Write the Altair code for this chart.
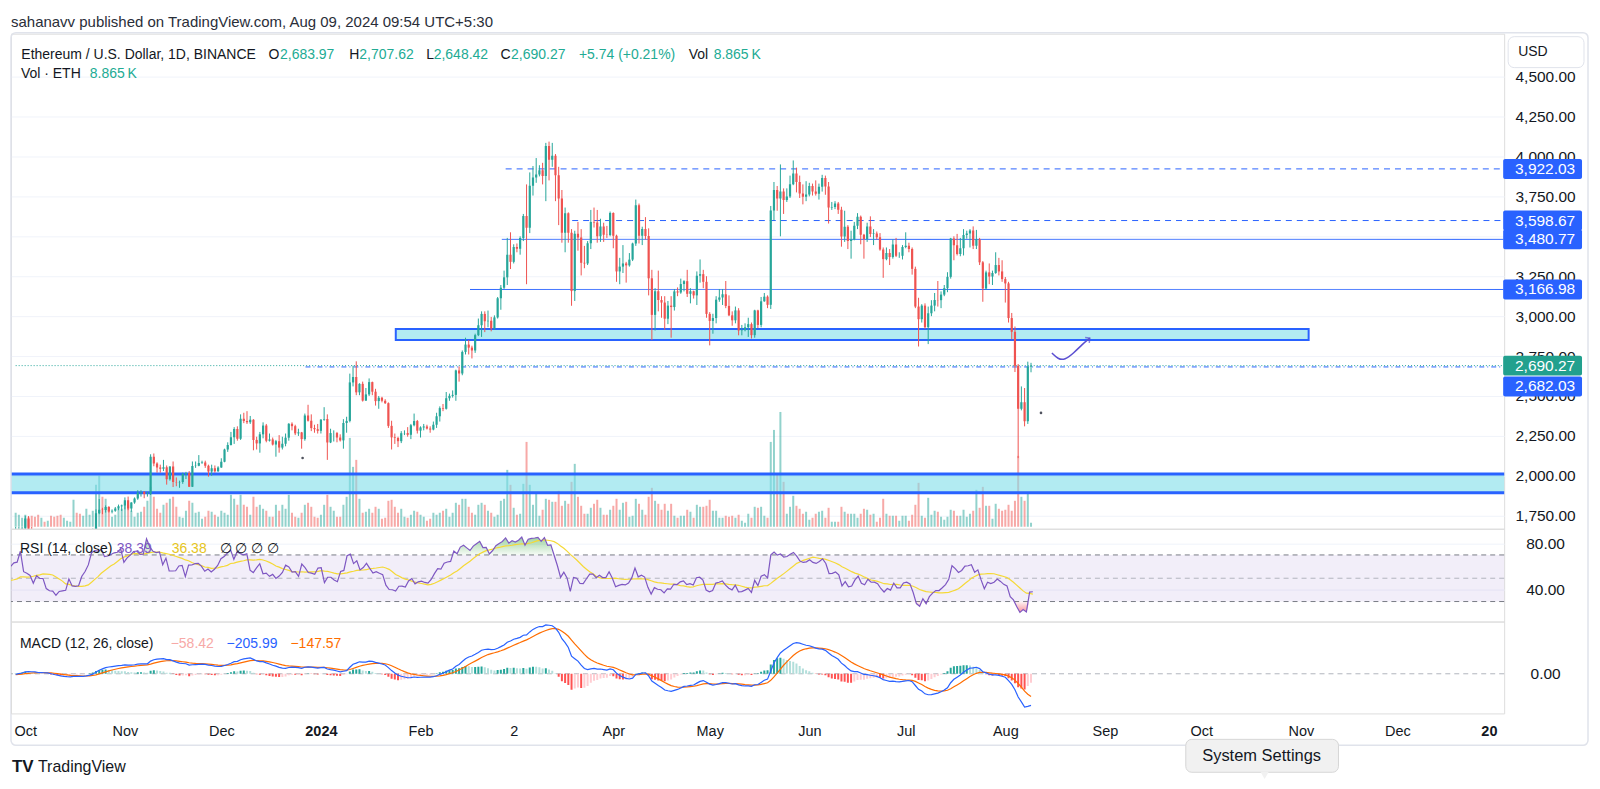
import altair as alt
import numpy as np
import pandas as pd

FONT = "Liberation Sans"
UP, DOWN = "#26a69a", "#ef5350"
DARK = "#131722"
BLUE = "#2962ff"

# ---------------- data (ETH/USD daily) ----------------
# warm-up closes Sep 1-27 2023 (off-screen, used only by the indicators)
sep_close = [1628, 1635, 1637, 1630, 1634, 1632, 1645, 1635, 1634, 1617, 1550, 1593, 1606, 1626,
             1641, 1635, 1622, 1638, 1645, 1624, 1583, 1593, 1593, 1582, 1589, 1594, 1598]

# daily candles 2023-09-28 .. 2024-08-09
close = [
    1653, 1668, 1671,
    1733, 1663, 1656, 1647, 1611, 1646, 1633, 1633, 1580, 1567, 1565, 1539, 1553, 1555, 1557, 1600,
    1566, 1564, 1566, 1605, 1628, 1665, 1765, 1788, 1786, 1805, 1777, 1782, 1795, 1810, 1815,
    1847, 1796, 1833, 1858, 1894, 1899, 1886, 1888, 2120, 2077, 2052, 2045, 2054, 1979, 2058, 1961,
    1960, 1962, 2012, 2018, 1932, 2062, 2063, 2080, 2084, 2063, 2027, 2048, 2028, 2052,
    2088, 2165, 2193, 2242, 2293, 2233, 2358, 2344, 2336, 2352, 2225, 2203, 2260, 2315, 2220, 2228,
    2196, 2217, 2177, 2201, 2239, 2326, 2311, 2266, 2272, 2230, 2378, 2345, 2299, 2292, 2282,
    2352, 2356, 2209, 2268, 2268, 2240, 2222, 2331, 2344, 2585, 2619, 2523, 2576, 2471, 2510, 2587,
    2527, 2468, 2489, 2470, 2455, 2313, 2241, 2237, 2217, 2267, 2268, 2257, 2317, 2343, 2283,
    2303, 2309, 2296, 2290, 2320, 2373, 2424, 2420, 2486, 2501, 2507, 2660, 2641, 2776, 2822, 2803,
    2785, 2881, 2943, 3014, 2968, 2971, 2923, 2992, 3112, 3178, 3243, 3385, 3340,
    3433, 3422, 3489, 3627, 3553, 3817, 3868, 3887, 3914, 3877, 4066, 3980, 4004, 3882, 3737, 3523,
    3644, 3523, 3157, 3516, 3493, 3334, 3330, 3456, 3590, 3587, 3500, 3562, 3509, 3508, 3646,
    3503, 3280, 3310, 3330, 3318, 3354, 3455, 3695, 3503, 3545, 3502, 3237, 3008, 3156, 3101, 3085,
    2984, 3066, 3057, 3155, 3148, 3201, 3219, 3140, 3156, 3130, 3253, 3263, 3215, 3014,
    2970, 2988, 3103, 3117, 3137, 3064, 3005, 2974, 3036, 2910, 2912, 2930, 2950, 2881, 3036, 2945,
    3093, 3122, 3071, 3662, 3790, 3736, 3780, 3728, 3749, 3826, 3893, 3840, 3768, 3747, 3762,
    3815, 3780, 3767, 3810, 3865, 3812, 3680, 3683, 3705, 3667, 3498, 3560, 3470, 3480, 3566, 3622,
    3510, 3483, 3562, 3515, 3517, 3494, 3418, 3357, 3396, 3370, 3449, 3378, 3378, 3433,
    3441, 3420, 3296, 3060, 2981, 3066, 2931, 3018, 3066, 3101, 3100, 3135, 3175, 3246, 3487, 3444,
    3389, 3425, 3508, 3517, 3536, 3441, 3481, 3337, 3173, 3274, 3248, 3270, 3320, 3280, 3232,
    3205, 2988, 2902, 2689, 2420, 2461, 2342, 2683.97, 2690.27,
]
high = [
    1680, 1680, 1680,
    1750, 1748, 1680, 1660, 1665, 1655, 1655, 1645, 1640, 1595, 1575, 1568, 1575, 1562, 1565, 1625,
    1605, 1580, 1575, 1630, 1635, 1670, 1790, 1855, 1800, 1815, 1810, 1790, 1805, 1820, 1820,
    1865, 1870, 1835, 1865, 1910, 1910, 1905, 1900, 2135, 2140, 2085, 2070, 2100, 2065, 2060, 2090,
    1990, 1970, 2020, 2025, 2030, 2090, 2090, 2130, 2095, 2095, 2070, 2070, 2065, 2060,
    2110, 2170, 2210, 2275, 2305, 2310, 2385, 2395, 2405, 2375, 2355, 2245, 2275, 2335, 2325, 2265,
    2240, 2225, 2255, 2245, 2265, 2330, 2335, 2320, 2295, 2275, 2390, 2445, 2385, 2320, 2325,
    2355, 2430, 2385, 2295, 2285, 2275, 2260, 2355, 2370, 2640, 2690, 2717, 2580, 2590, 2550, 2610,
    2590, 2545, 2500, 2495, 2480, 2460, 2345, 2265, 2245, 2280, 2285, 2305, 2325, 2390, 2350,
    2310, 2325, 2320, 2310, 2340, 2395, 2435, 2450, 2525, 2515, 2535, 2665, 2685, 2785, 2865, 2850,
    2815, 2890, 2985, 3030, 3030, 3035, 2995, 3005, 3120, 3195, 3285, 3490, 3525,
    3450, 3455, 3500, 3640, 3825, 3900, 3940, 3990, 3945, 3960, 4085, 4093, 4085, 4015, 3935, 3790,
    3680, 3650, 3545, 3535, 3590, 3545, 3440, 3470, 3665, 3680, 3665, 3610, 3585, 3565, 3655,
    3650, 3510, 3365, 3445, 3340, 3395, 3460, 3730, 3705, 3560, 3620, 3550, 3290, 3175, 3285, 3125,
    3125, 3095, 3125, 3170, 3180, 3235, 3225, 3290, 3175, 3160, 3280, 3355, 3290, 3250,
    3025, 3015, 3125, 3170, 3170, 3220, 3130, 3030, 3060, 3050, 2945, 2955, 2990, 2960, 3040, 3040,
    3120, 3145, 3130, 3690, 3840, 3815, 3950, 3800, 3800, 3880, 3975, 3930, 3880, 3825, 3845,
    3835, 3830, 3850, 3830, 3885, 3880, 3840, 3715, 3720, 3715, 3685, 3660, 3570, 3535, 3590, 3645,
    3630, 3515, 3585, 3625, 3545, 3530, 3520, 3430, 3430, 3420, 3480, 3490, 3400, 3445,
    3525, 3460, 3430, 3310, 3115, 3075, 3080, 3060, 3100, 3145, 3220, 3155, 3195, 3275, 3490, 3500,
    3515, 3490, 3545, 3535, 3545, 3562, 3540, 3490, 3345, 3285, 3330, 3285, 3400, 3365, 3350,
    3245, 3215, 3020, 2935, 2700, 2560, 2550, 2715, 2707.62,
]
low = [
    1595, 1640, 1660,
    1665, 1655, 1637, 1620, 1605, 1605, 1630, 1620, 1555, 1560, 1550, 1521, 1535, 1545, 1545, 1555,
    1555, 1555, 1545, 1560, 1595, 1620, 1660, 1760, 1760, 1770, 1770, 1765, 1775, 1785, 1780,
    1790, 1785, 1775, 1825, 1850, 1870, 1860, 1870, 1880, 2060, 2020, 2020, 2030, 1945, 1970, 1930,
    1935, 1925, 1950, 1980, 1930, 1930, 2050, 2060, 2075, 2050, 1995, 2000, 2020, 2025,
    2050, 2085, 2150, 2190, 2200, 2220, 2225, 2330, 2325, 2325, 2160, 2165, 2145, 2235, 2210, 2215,
    2190, 2120, 2145, 2165, 2185, 2220, 2285, 2255, 2250, 2170, 2220, 2340, 2280, 2270, 2265,
    2265, 2345, 2100, 2205, 2215, 2210, 2215, 2170, 2270, 2335, 2560, 2505, 2505, 2465, 2470, 2500,
    2505, 2440, 2420, 2460, 2450, 2300, 2165, 2200, 2180, 2205, 2255, 2245, 2230, 2310, 2265,
    2240, 2285, 2290, 2270, 2285, 2300, 2340, 2405, 2415, 2470, 2490, 2470, 2590, 2630, 2760, 2760,
    2735, 2770, 2875, 2870, 2900, 2930, 2905, 2915, 2985, 3040, 3170, 3195, 3295,
    3330, 3400, 3385, 3470, 3200, 3520, 3755, 3835, 3875, 3825, 3720, 3850, 3935, 3720, 3570, 3460,
    3400, 3460, 3065, 3095, 3410, 3255, 3300, 3320, 3420, 3555, 3460, 3465, 3465, 3490, 3500,
    3425, 3215, 3200, 3270, 3210, 3310, 3345, 3440, 3455, 3445, 3480, 3130, 2850, 2910, 3030, 2990,
    2915, 2950, 2865, 3035, 3125, 3140, 3155, 3120, 3080, 3110, 3070, 3210, 3175, 2990,
    2817, 2890, 2955, 3090, 3070, 3050, 3000, 2940, 2955, 2880, 2880, 2905, 2870, 2860, 2865, 2925,
    2930, 3090, 3050, 3045, 3600, 3660, 3500, 3640, 3715, 3740, 3820, 3775, 3740, 3700, 3720,
    3750, 3755, 3755, 3730, 3780, 3760, 3580, 3665, 3670, 3640, 3435, 3465, 3420, 3360, 3475, 3545,
    3450, 3360, 3465, 3495, 3445, 3480, 3410, 3240, 3350, 3320, 3360, 3370, 3365, 3355,
    3425, 3400, 3260, 3050, 2810, 2960, 2920, 2825, 3000, 3030, 3060, 3050, 3125, 3150, 3235, 3350,
    3380, 3375, 3380, 3485, 3430, 3420, 3420, 3320, 3090, 3165, 3200, 3195, 3265, 3255, 3215,
    3085, 2960, 2855, 2650, 2111, 2410, 2310, 2325, 2648.42,
]
# volume, relative bar heights
volume = [
    14, 12, 9,
    12, 10, 11, 10, 12, 9, 5, 6, 11, 10, 11, 12, 9, 6, 5, 27, 14, 13, 11, 18, 12, 16, 42, 51, 30, 28,
    20, 10, 12, 18, 18,
    25, 22, 16, 10, 14, 15, 20, 26, 40, 30, 18, 14, 22, 24, 28, 30, 20, 10, 9, 16, 26, 24, 14, 15, 8,
    10, 16, 15, 12, 10,
    16, 14, 12, 32, 28, 22, 32, 22, 20, 12, 30, 20, 22, 18, 16, 10, 10, 22, 16, 22, 18, 32, 14, 10, 9,
    14, 22, 24, 20, 10, 9,
    12, 22, 32, 20, 16, 10, 10, 22, 30, 89, 60, 67, 28, 14, 15, 18, 14, 20, 18, 8, 9, 26, 27, 20, 14,
    18, 10, 9, 12, 16, 15,
    12, 10, 6, 8, 14, 12, 14, 16, 18, 10, 14, 24, 22, 28, 28, 20, 14, 12, 22, 24, 22, 16, 14, 10, 12,
    26, 28, 57, 42,
    19, 12, 13, 43, 85, 42, 22, 34, 11, 17, 28, 27, 25, 25, 36, 21, 26, 23, 45, 63, 30, 21, 13, 13, 19,
    23, 27, 19, 12, 12, 17,
    21, 28, 17, 24, 25, 10, 11, 28, 23, 17, 12, 30, 39, 26, 23, 17, 23, 16, 23, 11, 9, 11, 11, 17, 15,
    9, 22, 20, 20, 21,
    27, 16, 16, 9, 9, 11, 10, 11, 9, 12, 6, 4, 13, 9, 20, 19, 20, 11, 9, 85, 97, 52, 115, 45, 13, 20,
    31, 21, 18, 13, 15,
    7, 9, 13, 15, 16, 9, 19, 5, 5, 5, 20, 15, 13, 13, 13, 9, 13, 18, 17, 12, 13, 5, 9, 28, 13, 11, 11,
    11, 6, 11,
    11, 6, 12, 22, 44, 11, 9, 29, 12, 16, 15, 10, 7, 10, 17, 16, 11, 11, 17, 10, 13, 16, 37, 19, 40,
    21, 21, 8, 23, 18, 16,
    17, 22, 16, 26, 71, 30, 26, 34, 4,
]
assert len(close) == len(high) == len(low) == len(volume) == 317

# drawings on the chart
level_price = [3922.03, 3598.67, 3480.77, 3166.98]
level_start = [149.5, 170.2, 148.3, 138.4]
level_dashed = [True, True, False, False]
box_value = [3922.03, 3598.67, 3480.77, 3166.98, 2682.03]
box_pos = [3922.03, 3598.67, 3480.77, 3166.98, 2560.0]
ray_price = 2682.03
ray_start = 87.2
zone_start = [115.3, -12]
zone_end = [399.4, 470]
zone_top = [2919, 2012]
zone_bottom = [2850, 1894]
arrow_day = [319.5, 321.4, 323.5, 326.3, 329.0, 331.3]
arrow_price = [2769, 2731, 2725, 2769, 2825, 2862]
dot_day = [86.3, 316.1]
dot_price = [2112, 2394]

month_days = [0, 31, 61, 92, 123, 152, 183, 213, 244, 274, 305, 336, 366, 397, 427, 458]
month_labels = ["Oct", "Nov", "Dec", "2024", "Feb", "2", "Apr", "May", "Jun", "Jul", "Aug",
                "Sep", "Oct", "Nov", "Dec", "20"]

rsi_text = ["38.39", "36.38"]
macd_text = ["\u221258.42", "\u2212205.99", "\u2212147.57"]

# ---------------- table ----------------
n = len(close)
opens = [sep_close[-1]] + close[:-1]
df = pd.DataFrame(dict(day=list(range(-3, n - 3)), open=opens, high=high, low=low,
                       close=close, vol=volume))
df["col"] = np.where(df["close"] >= df["open"], UP, DOWN)

allc = pd.Series(sep_close + close, dtype=float)
d = allc.diff().fillna(0)
ag = d.clip(lower=0).ewm(alpha=1 / 14, adjust=False).mean()
al = (-d).clip(lower=0).ewm(alpha=1 / 14, adjust=False).mean()
rsi = 100 - 100 / (1 + ag / al)
rsima = rsi.rolling(14, min_periods=1).mean()
macd = allc.ewm(span=12, adjust=False).mean() - allc.ewm(span=26, adjust=False).mean()
sig = macd.ewm(span=9, adjust=False).mean()
hist = macd - sig
prev = hist.shift(1).fillna(0)
hcol = np.where(hist >= 0, np.where(hist >= prev, "#26a69a", "#b2dfdb"),
                np.where(hist < prev, "#ff5252", "#ffcdd2"))
k = len(sep_close)
df["rsi"] = rsi.values[k:]
df["rsima"] = rsima.values[k:]
df["macd"] = macd.values[k:]
df["sig"] = sig.values[k:]
df["hist"] = hist.values[k:]
df["hcol"] = hcol[k:]

one = pd.DataFrame({"k": [0]})

# ---------------- scales / helpers ----------------
W = 1496
H1, H2, H3 = 496, 93, 92
xs = alt.Scale(domain=[-2.9, 458.7], nice=False, zero=False)
ps = alt.Scale(domain=[1668.75, 4768.75], nice=False, zero=False)


def raxis(values, grid=True):
    return alt.Axis(orient="right", values=values, format=",.2f", labelAlign="center",
                    labelBaseline="middle", labelPadding=41, labelFontSize=15.5,
                    labelColor=DARK, labelFont=FONT, ticks=False, tickSize=0, domain=False,
                    grid=grid, gridColor="#f0f3fa", gridWidth=1, title=None, labelOverlap=False)


PAX = raxis(list(range(1750, 4501, 250)))


def X(f="day"):
    return alt.X(f"{f}:Q", scale=xs, axis=None)


def PY(f):
    return alt.Y(f"{f}:Q", scale=ps, axis=PAX)


def txt(s, x, y, color=DARK, size=14, align="left", weight="normal"):
    return alt.Chart(one).mark_text(text=s, align=align, baseline="middle", fontSize=size,
                                    color=color, fontWeight=weight, font=FONT).encode(
        x=alt.value(x), y=alt.value(y))


# ---------------- price pane ----------------
vol_layer = alt.Chart(df).mark_bar(size=2, opacity=0.5, clip=True).encode(
    x=X(), y=alt.Y("vol:Q", scale=alt.Scale(domain=[-2, 494], nice=False, zero=False), axis=None),
    y2=alt.Y2Datum(0), color=alt.Color("col:N", scale=None))

zdf = pd.DataFrame(dict(start=zone_start, end=zone_end, top=zone_top, bottom=zone_bottom))
zones = alt.Chart(zdf).mark_rect(fill="#7fdde9", fillOpacity=0.6, stroke=BLUE, clip=True).encode(
    x=alt.X("start:Q", scale=xs, axis=None), x2="end:Q", y=PY("top"), y2="bottom:Q",
    strokeWidth=alt.condition("datum.start < 0", alt.value(3), alt.value(2)))

ldf = pd.DataFrame(dict(price=level_price, start=level_start, dashed=level_dashed))
levels = alt.Chart(ldf).mark_rule(color=BLUE, strokeWidth=1, clip=True).encode(
    x=alt.X("start:Q", scale=xs, axis=None), x2=alt.X2Datum(460), y=PY("price"),
    strokeDash=alt.condition("datum.dashed", alt.value([6, 5]), alt.value([1, 0])))

ray = alt.Chart(pd.DataFrame({"price": [ray_price], "start": [ray_start]})).mark_rule(
    color=BLUE, strokeWidth=1, strokeDash=[5, 3, 1, 3], clip=True).encode(
    x=alt.X("start:Q", scale=xs, axis=None), x2=alt.X2Datum(460), y=PY("price"))

last_df = pd.DataFrame({"price": [close[-1]], "start": [-3]})
last_line = alt.Chart(last_df).mark_rule(color=UP, strokeWidth=1, strokeDash=[1, 2], clip=True).encode(
    x=alt.X("start:Q", scale=xs, axis=None), x2=alt.X2Datum(460), y=PY("price"))

wick = alt.Chart(df).mark_rule(strokeWidth=1, clip=True).encode(
    x=X(), y=PY("low"), y2="high:Q", color=alt.Color("col:N", scale=None))
body = alt.Chart(df).mark_bar(size=2.2, clip=True).encode(
    x=X(), y=PY("open"), y2="close:Q", color=alt.Color("col:N", scale=None))

adf = pd.DataFrame(dict(day=arrow_day, price=arrow_price, i=list(range(len(arrow_day)))))
arrow = alt.Chart(adf).mark_line(color="#5b4fd1", strokeWidth=1.5, interpolate="basis").encode(
    x=X(), y=PY("price"), order="i:Q")
arrow_head = alt.Chart(adf.tail(1)).mark_point(shape="M -1 1 L 0 0 L 1 1", filled=False, size=45,
                                               strokeWidth=1.5, angle=52, color="#5b4fd1").encode(
    x=X(), y=PY("price"))
dots = alt.Chart(pd.DataFrame(dict(day=dot_day, price=dot_price))).mark_circle(
    size=7, color="#50535e", opacity=1).encode(x=X(), y=PY("price"))

bdf = pd.DataFrame(dict(val=box_value, pos=box_pos))
boxes = alt.Chart(bdf).transform_calculate(lo="datum.pos - 62.5", hi="datum.pos + 62.5").mark_rect(
    color=BLUE, cornerRadius=2).encode(x=alt.value(1495), x2=alt.value(1574), y=PY("lo"), y2="hi:Q")
box_txt = alt.Chart(bdf).mark_text(color="white", fontSize=15.5, font=FONT, align="center",
                                   baseline="middle").encode(
    x=alt.value(1537), y=PY("pos"), text=alt.Text("val:Q", format=",.2f"))
gdf = pd.DataFrame({"val": [close[-1]], "pos": [close[-1]]})
gbox = alt.Chart(gdf).transform_calculate(lo="datum.pos - 62.5", hi="datum.pos + 62.5").mark_rect(
    color="#22a08e", cornerRadius=2).encode(x=alt.value(1495), x2=alt.value(1574), y=PY("lo"), y2="hi:Q")
gtxt = alt.Chart(gdf).mark_text(color="white", fontSize=15.5, font=FONT, align="center",
                                baseline="middle").encode(
    x=alt.value(1537), y=PY("pos"), text=alt.Text("val:Q", format=",.2f"))

usd_box = alt.Chart(one).mark_rect(fill="white", stroke="#e0e3eb", cornerRadius=6).encode(
    x=alt.value(1500), x2=alt.value(1576), y=alt.value(3), y2=alt.value(34))
card = alt.Chart(one).mark_rect(fill=None, stroke="#e0e3eb", strokeWidth=1.5, cornerRadius=5).encode(
    x=alt.value(0), x2=alt.value(1580), y=alt.value(-1), y2=alt.value(713))

o_, h_, l_, c_ = opens[-1], high[-1], low[-1], close[-1]
TEAL = "#22ab94"
legend = [
    txt("sahanavv published on TradingView.com, Aug 09, 2024 09:54 UTC+5:30", 0, -12, "#2a2e39", 15),
    txt("Ethereum / U.S. Dollar, 1D, BINANCE", 10.4, 21),
    txt("O", 258, 21), txt(f"{o_:,.2f}", 269.5, 21, TEAL),
    txt("H", 339, 21), txt(f"{h_:,.2f}", 349, 21, TEAL),
    txt("L", 416, 21), txt(f"{l_:,.2f}", 423.5, 21, TEAL),
    txt("C", 490.5, 21), txt(f"{c_:,.2f}", 501, 21, TEAL),
    txt("+5.74 (+0.21%)", 569, 21, TEAL),
    txt("Vol", 679, 21), txt("8.865\u2009K", 704, 21, TEAL),
    txt("Vol \u00b7 ETH", 10, 40), txt("8.865\u2009K", 79, 40, TEAL),
    txt("USD", 1510, 18.5, DARK, 14),
]

price_main = alt.layer(zones, levels, ray, last_line, wick, body, arrow, arrow_head, dots,
                       boxes, box_txt, gbox, gtxt, usd_box, card, *legend)
price = alt.layer(vol_layer, price_main).resolve_scale(y="independent").properties(width=W, height=H1)

# ---------------- RSI pane ----------------
rs = alt.Scale(domain=[12.8, 92.5], nice=False, zero=False)
RAX = raxis([40, 80])
band = alt.Chart(one).mark_rect(color="#7e57c2", opacity=0.1).encode(
    x=alt.value(0), x2=alt.value(W), y=alt.YDatum(70, scale=rs, axis=RAX), y2=alt.Y2Datum(30))
r70 = alt.Chart(one).mark_rule(color="#787b86", strokeDash=[5, 4]).encode(y=alt.YDatum(70, scale=rs, axis=RAX))
r50 = alt.Chart(one).mark_rule(color="#b2b5be", strokeDash=[5, 4]).encode(y=alt.YDatum(50, scale=rs, axis=RAX))
r30 = alt.Chart(one).mark_rule(color="#787b86", strokeDash=[5, 4]).encode(y=alt.YDatum(30, scale=rs, axis=RAX))
ob = alt.Chart(df).transform_calculate(ob="max(datum.rsi, 70)").mark_area(
    clip=True, color=alt.Gradient(gradient="linear", x1=1, x2=1, y1=1, y2=0,
                                  stops=[alt.GradientStop(color="rgba(76,175,80,0.05)", offset=0),
                                         alt.GradientStop(color="rgba(76,175,80,0.55)", offset=1)])).encode(
    x=X(), y=alt.Y("ob:Q", scale=rs, axis=RAX), y2=alt.Y2Datum(70))
os_ = alt.Chart(df).transform_calculate(os="min(datum.rsi, 30)").mark_area(
    clip=True, color=alt.Gradient(gradient="linear", x1=1, x2=1, y1=0, y2=1,
                                  stops=[alt.GradientStop(color="rgba(242,54,69,0.05)", offset=0),
                                         alt.GradientStop(color="rgba(242,54,69,0.55)", offset=1)])).encode(
    x=X(), y=alt.Y("os:Q", scale=rs, axis=RAX), y2=alt.Y2Datum(30))
rsi_line = alt.Chart(df).mark_line(color="#7e57c2", strokeWidth=1.2, clip=True).encode(
    x=X(), y=alt.Y("rsi:Q", scale=rs, axis=RAX))
rsima_line = alt.Chart(df).mark_line(color="#f5d936", strokeWidth=1.2, clip=True).encode(
    x=X(), y=alt.Y("rsima:Q", scale=rs, axis=RAX))
rsi_leg = [txt("RSI (14, close)", 9, 20), txt(rsi_text[0], 106, 20, "#7e57c2"),
           txt(rsi_text[1], 161, 20, "#e6c521"), txt("\u2205  \u2205  \u2205  \u2205", 209, 20)]
rsi_chart = alt.layer(band, r70, r50, r30, ob, os_, rsima_line, rsi_line, *rsi_leg).properties(
    width=W, height=H2)

# ---------------- MACD pane ----------------
ms = alt.Scale(domain=[-258, 340], nice=False, zero=False)
MAX = raxis([0], grid=False)
lab_expr = "[" + ",".join(f"'{s}'" for s in month_labels) + "][indexof([" + \
    ",".join(str(v) for v in month_days) + "], datum.value)]"
bold_test = " || ".join(f"datum.value == {d_}" for d_, s in zip(month_days, month_labels)
                        if s.isdigit() and len(s) != 1)
XAX = alt.Axis(values=month_days, labelExpr=lab_expr, labelFontSize=14.5, labelColor=DARK,
               labelFont=FONT, ticks=False, tickSize=0, domain=False, grid=False, labelPadding=18,
               labelBaseline="middle", labelFlush=False, labelOverlap=False, title=None,
               labelFontWeight={"condition": {"test": bold_test, "value": "bold"}, "value": "normal"},
               labelAlign={"condition": {"test": f"datum.value == {month_days[-1]}", "value": "right"},
                           "value": "center"})


def MX():
    return alt.X("day:Q", scale=xs, axis=XAX)


zero = alt.Chart(one).mark_rule(color="#b2b5be", strokeDash=[5, 4]).encode(y=alt.YDatum(0, scale=ms, axis=MAX))
hbar = alt.Chart(df).mark_bar(size=2, clip=True).encode(
    x=MX(), y=alt.Y("hist:Q", scale=ms, axis=MAX), y2=alt.Y2Datum(0), color=alt.Color("hcol:N", scale=None))
mline = alt.Chart(df).mark_line(color=BLUE, strokeWidth=1.2, clip=True).encode(
    x=MX(), y=alt.Y("macd:Q", scale=ms, axis=MAX))
sline = alt.Chart(df).mark_line(color="#ff6d00", strokeWidth=1.2, clip=True).encode(
    x=MX(), y=alt.Y("sig:Q", scale=ms, axis=MAX))
macd_leg = [txt("MACD (12, 26, close)", 9, 22), txt(macd_text[0], 160, 22, "#f7a9a7"),
            txt(macd_text[1], 216, 22, BLUE), txt(macd_text[2], 280, 22, "#ff6d00")]
footer = [
    txt("TV", 1, 146, DARK, 17, weight=900),
    txt("TradingView", 27, 146, DARK, 16),
    alt.Chart(one).mark_rect(fill="#f1f1f1", stroke="#d6d6d6", cornerRadius=6).encode(
        x=alt.value(1177), x2=alt.value(1330), y=alt.value(118), y2=alt.value(151)),
    alt.Chart(one).mark_point(shape="triangle-down", filled=True, size=70, color="#f1f1f1",
                              opacity=1).encode(x=alt.value(1256), y=alt.value(154)),
    txt("System Settings", 1253, 135, DARK, 16.5, align="center"),
]
macd_chart = alt.layer(zero, hbar, sline, mline, *macd_leg, *footer).properties(width=W, height=H3)

chart = alt.vconcat(price, rsi_chart, macd_chart, spacing=0, bounds="flush").properties(
    padding={"left": 1, "top": 5, "right": 2, "bottom": 0}
).configure_view(stroke="#e0e3eb", strokeWidth=1).configure(background="white")

chart.save("out.html", embed_options={"renderer": "svg", "actions": False})
